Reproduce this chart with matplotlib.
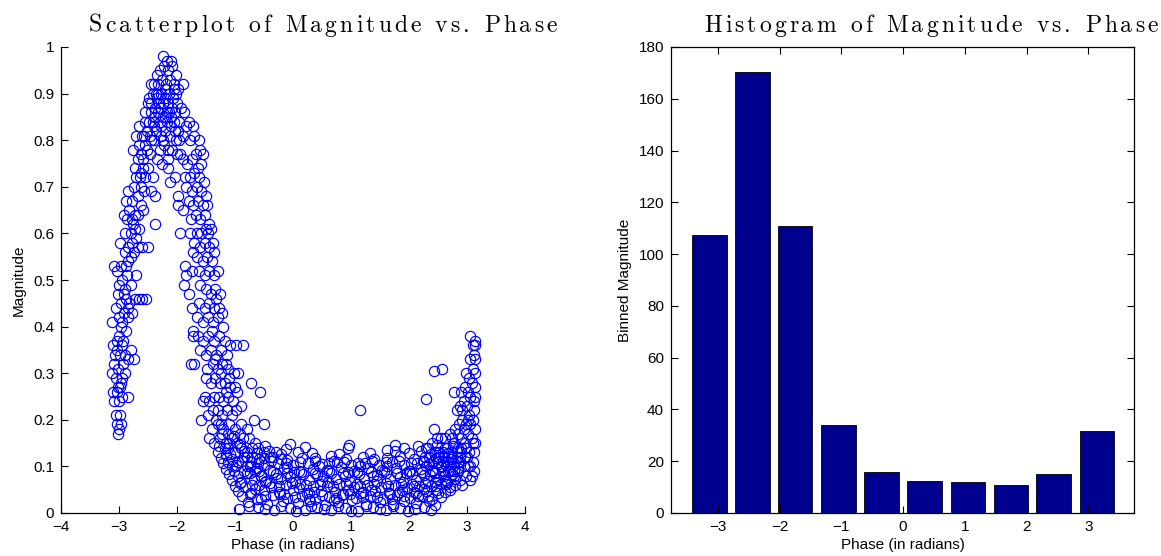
import numpy as np
import matplotlib.pyplot as plt

# magnitude vs phase samples, grouped by where they sit in the cloud
rise = [
    (-3.02, .17), (-3.00, .18), (-3.03, .19), (-2.96, .19), (-3.05, .21), (-2.98, .21),
    (-3.08, .24), (-3.00, .24), (-2.95, .25), (-3.04, .26), (-2.85, .25), (-2.98, .27),
    (-3.10, .26), (-3.05, .29), (-2.97, .28), (-2.90, .30), (-3.12, .30), (-3.02, .31),
    (-2.93, .32), (-3.08, .32), (-2.98, .34), (-3.10, .36), (-3.03, .35), (-2.90, .34),
    (-2.80, .35), (-2.85, .33), (-2.75, .33), (-2.95, .36), (-2.88, .39), (-3.04, .37),
    (-3.12, .41), (-2.97, .40), (-3.00, .42), (-2.92, .43), (-2.85, .42), (-2.78, .43),
    (-3.05, .44), (-2.96, .45), (-2.88, .46), (-3.02, .47), (-2.82, .45), (-2.90, .48),
    (-3.00, .49), (-2.94, .50), (-2.86, .51), (-3.03, .52), (-2.96, .53), (-2.88, .53),
    (-2.73, .46), (-2.65, .46), (-3.08, .53), (-2.80, .55), (-2.90, .56), (-2.70, .51),
    (-2.98, .58), (-2.85, .57), (-2.75, .56), (-2.68, .57), (-2.90, .60), (-2.80, .60),
    (-2.70, .59), (-2.60, .57), (-2.86, .63), (-2.76, .62), (-2.66, .61), (-2.92, .64),
    (-2.82, .65), (-2.72, .64), (-2.62, .66), (-2.88, .67), (-2.77, .67), (-2.67, .68),
    (-2.85, .69), (-2.74, .70), (-2.58, .65), (-2.64, .72), (-2.70, .72), (-2.57, .69),
    (-2.72, .74), (-2.62, .73), (-2.55, .72), (-2.67, .76), (-2.58, .76), (-2.50, .74),
    (-2.76, .78), (-2.65, .79), (-2.55, .79), (-2.47, .77), (-2.71, .81), (-2.60, .81),
    (-2.52, .82), (-2.44, .80), (-2.66, .83), (-2.56, .84), (-2.48, .84), (-2.40, .83),
    (-2.35, .76), (-2.42, .72), (-2.45, .69), (-2.38, .68), (-2.38, .62), (-2.50, .57),
    (-2.53, .46), (-2.60, .46), (-3.00, .38), (-2.94, .41), (-2.84, .44), (-2.92, .47),
    (-2.80, .49), (-2.85, .54), (-2.78, .58), (-2.72, .61), (-2.78, .63), (-2.68, .64),
    (-2.62, .70), (-2.58, .74), (-2.62, .77), (-2.52, .78), (-2.57, .81), (-2.46, .81),
    (-2.95, .29), (-3.07, .34), (-3.01, .27), (-2.93, .37),
]

peak = [
    (-2.45, .86), (-2.38, .87), (-2.32, .86), (-2.25, .85), (-2.18, .86), (-2.10, .85),
    (-2.03, .86), (-1.96, .84), (-2.48, .89), (-2.42, .90), (-2.35, .89), (-2.28, .90),
    (-2.21, .89), (-2.14, .90), (-2.07, .89), (-2.00, .88), (-1.93, .87), (-2.40, .92),
    (-2.33, .92), (-2.26, .93), (-2.19, .92), (-2.12, .93), (-2.05, .92), (-1.98, .91),
    (-2.30, .95), (-2.22, .96), (-2.15, .95), (-2.08, .96), (-2.02, .94), (-2.24, .98),
    (-2.17, .97), (-2.10, .97), (-2.35, .94), (-1.90, .92), (-2.50, .88), (-2.55, .86),
    (-2.36, .82), (-2.28, .81), (-2.20, .82), (-2.12, .81), (-2.04, .82), (-1.96, .80),
    (-2.30, .78), (-2.22, .79), (-2.15, .78), (-2.08, .78), (-2.26, .75), (-2.16, .74),
    (-2.00, .77), (-2.12, .71), (-2.04, .72), (-2.30, .84), (-2.18, .84), (-2.06, .84),
    (-2.42, .84), (-1.88, .86), (-1.85, .83), (-1.90, .81), (-1.95, .77),
    (-2.44, .88), (-2.37, .90), (-2.31, .88), (-2.24, .88), (-2.16, .88), (-2.09, .87),
    (-2.02, .90), (-2.38, .85), (-2.27, .87), (-2.13, .86), (-2.06, .91), (-2.20, .91),
    (-2.32, .90), (-2.45, .92), (-2.28, .83), (-2.20, .85), (-2.10, .83), (-2.02, .80),
    (-2.25, .80), (-2.40, .80), (-2.15, .76), (-1.98, .82),
]

fall = [
    (-1.90, .76), (-1.82, .75), (-1.75, .76), (-1.68, .77), (-1.60, .78), (-1.55, .77),
    (-1.86, .72), (-1.78, .72), (-1.70, .73), (-1.62, .72), (-1.53, .71), (-1.84, .70),
    (-1.74, .69), (-1.66, .70), (-1.58, .69), (-1.78, .80), (-1.70, .81), (-1.62, .80),
    (-1.80, .84), (-1.72, .83), (-1.80, .67), (-1.72, .66), (-1.64, .67), (-1.56, .66),
    (-1.48, .66), (-1.76, .63), (-1.68, .64), (-1.60, .63), (-1.52, .64), (-1.44, .62),
    (-1.78, .60), (-1.66, .60), (-1.58, .60), (-1.50, .61), (-1.42, .61), (-1.90, .65),
    (-1.98, .66), (-1.95, .60), (-1.98, .68), (-1.70, .58), (-1.60, .57), (-1.52, .58),
    (-1.44, .57), (-1.36, .56), (-1.66, .55), (-1.56, .54), (-1.48, .55), (-1.40, .54),
    (-1.62, .52), (-1.52, .51), (-1.44, .52), (-1.36, .51), (-1.30, .52), (-1.86, .53),
    (-1.84, .51), (-1.75, .52), (-1.73, .56), (-1.88, .49), (-1.80, .47), (-1.60, .49),
    (-1.50, .48), (-1.42, .47), (-1.34, .48), (-1.26, .47), (-1.62, .45), (-1.52, .44),
    (-1.44, .45), (-1.36, .44), (-1.66, .42), (-1.55, .41), (-1.46, .42), (-1.38, .41),
    (-1.30, .42), (-1.22, .43), (-1.75, .44), (-1.72, .39), (-1.72, .38), (-1.64, .38),
    (-1.56, .37), (-1.46, .38), (-1.36, .37), (-1.28, .38), (-1.18, .37), (-1.08, .36),
    (-1.60, .35), (-1.50, .34), (-1.42, .35), (-1.32, .34), (-1.24, .35), (-1.14, .34),
    (-1.48, .31), (-1.38, .32), (-1.30, .31), (-1.22, .32), (-1.12, .31), (-1.76, .32),
    (-1.70, .32), (-0.87, .36), (-0.98, .36), (-1.50, .29), (-1.42, .28), (-1.34, .29),
    (-1.26, .28), (-1.18, .28), (-1.10, .29), (-1.02, .30), (-1.52, .25), (-1.44, .24),
    (-1.36, .25), (-1.28, .25), (-1.20, .24), (-1.12, .25), (-1.04, .24), (-0.96, .26),
    (-1.30, .22), (-1.22, .21), (-1.14, .22), (-1.06, .21), (-0.98, .22), (-0.90, .23),
    (-1.58, .20), (-1.56, .24), (-0.72, .28), (-0.57, .26), (-1.00, .27), (-0.94, .30),
    (-1.40, .18), (-1.30, .19), (-1.20, .18), (-1.10, .19), (-1.00, .18), (-0.90, .19),
    (-0.80, .18), (-1.36, .15), (-1.26, .16), (-1.16, .15), (-1.06, .16), (-0.96, .15),
    (-0.86, .16), (-0.76, .16), (-0.66, .15), (-0.50, .19), (-0.68, .20), (-1.44, .16),
    (-1.64, .74), (-1.58, .75), (-1.50, .68), (-1.46, .60), (-1.38, .58), (-1.32, .46),
    (-1.28, .44), (-1.20, .40), (-1.16, .32), (-1.08, .27), (-1.40, .39), (-1.34, .33),
    (-1.25, .30), (-1.16, .26), (-1.46, .21), (-1.38, .22), (-1.33, .20), (-1.24, .19),
]

floor = [
    (-0.93, .008), (-0.60, .012), (-0.32, .006), (-0.05, .011), (0.20, .007), (0.42, .013),
    (0.66, .006), (0.90, .010), (1.12, .005), (1.38, .012), (1.60, .007), (1.85, .011),
    (1.98, .004), (2.25, .013),
    (-0.78, .024), (-0.45, .019), (-0.18, .026), (0.08, .021), (0.30, .025), (0.55, .018),
    (0.78, .023), (1.02, .027), (1.25, .020), (1.50, .024), (1.72, .019), (1.92, .026),
    (2.12, .021), (2.35, .025), (2.45, .018),
    (-0.88, .036), (-0.62, .031), (-0.35, .038), (-0.10, .033), (0.15, .037), (0.38, .030),
    (0.62, .035), (0.85, .039), (1.08, .032), (1.32, .036), (1.56, .031), (1.80, .038),
    (2.02, .033), (2.22, .037), (2.40, .030), (2.55, .034),
    (-0.95, .047), (-0.72, .043), (-0.50, .050), (-0.25, .045), (0.00, .049), (0.24, .042),
    (0.48, .048), (0.72, .044), (0.95, .050), (1.18, .043), (1.42, .047), (1.66, .042),
    (1.88, .049), (2.08, .045), (2.30, .048), (2.50, .043), (2.62, .046),
    (-1.00, .059), (-0.82, .055), (-0.58, .061), (-0.38, .056), (-0.12, .060), (0.10, .054),
    (0.34, .059), (0.58, .057), (0.80, .062), (1.05, .055), (1.28, .060), (1.52, .056),
    (1.75, .061), (1.96, .054), (2.18, .059), (2.38, .057), (2.56, .062), (2.70, .055),
    (-1.05, .071), (-0.90, .067), (-0.68, .073), (-0.46, .068), (-0.20, .072), (0.04, .066),
    (0.28, .071), (0.50, .069), (0.74, .074), (0.98, .067), (1.22, .072), (1.45, .068),
    (1.68, .073), (1.90, .066), (2.12, .071), (2.32, .069), (2.50, .074), (2.66, .067),
    (2.80, .072),
    (-1.10, .083), (-0.95, .079), (-0.75, .085), (-0.55, .080), (-0.30, .084), (-0.06, .078),
    (0.18, .083), (0.42, .081), (0.66, .086), (0.90, .079), (1.14, .084), (1.38, .080),
    (1.60, .085), (1.84, .078), (2.05, .083), (2.26, .081), (2.44, .086), (2.60, .079),
    (2.74, .084),
    (-1.15, .095), (-0.85, .091), (-0.62, .097), (-0.40, .092), (-0.15, .096), (0.10, .090),
    (0.34, .095), (0.58, .093), (0.82, .098), (1.06, .091), (1.30, .096), (1.54, .092),
    (1.78, .097), (2.00, .090), (2.20, .095), (2.40, .093), (2.55, .098), (2.70, .091),
    (2.85, .096),
    (-1.20, .107), (-0.98, .103), (-0.72, .109), (-0.50, .104), (-0.26, .108), (0.00, .102),
    (0.25, .107), (0.50, .105), (0.75, .110), (1.00, .103), (1.24, .108), (1.48, .104),
    (1.70, .109), (1.92, .102), (2.14, .107), (2.34, .105), (2.50, .110), (2.64, .103),
    (2.78, .108),
    (-1.25, .119), (-1.05, .115), (-0.80, .121), (-0.58, .116), (-0.35, .120), (-0.10, .114),
    (0.15, .119), (0.38, .117), (0.65, .122), (0.92, .115), (1.20, .120), (1.62, .118),
    (1.85, .123), (2.08, .116), (2.28, .121), (2.46, .117), (2.60, .122), (2.72, .115),
    (2.88, .120),
    (-1.30, .131), (-1.08, .127), (-0.85, .133), (-0.62, .128), (-0.42, .132), (-0.20, .126),
    (0.08, .131), (0.32, .129), (0.80, .127), (1.32, .129), (1.75, .132), (2.00, .128),
    (2.20, .133), (2.38, .127), (2.52, .131), (2.68, .129), (2.82, .134),
    (-1.28, .143), (-1.12, .139), (-0.92, .145), (-0.70, .140), (-0.48, .144), (-0.12, .138),
    (0.20, .142), (0.95, .140), (2.15, .143), (2.32, .139), (2.48, .145), (2.62, .140),
    (2.76, .144), (2.90, .139),
    (-0.65, .052), (-0.40, .064), (-0.15, .040), (0.12, .062), (0.36, .045), (0.60, .066),
    (0.86, .041), (1.10, .063), (1.35, .050), (1.60, .065), (1.82, .044), (2.05, .062),
    (2.25, .052), (2.45, .066), (-0.55, .030), (-0.28, .076), (0.02, .088), (0.27, .030),
    (0.52, .080), (0.70, .028), (0.95, .088), (1.20, .034), (1.45, .082), (1.70, .030),
    (1.95, .085), (2.15, .036), (2.36, .082), (2.58, .090), (-0.80, .100), (-0.50, .118),
    (-0.10, .098), (0.45, .100), (0.70, .112), (1.15, .100), (1.40, .115), (1.62, .100),
    (2.30, .100), (2.52, .120),
    (-0.76, .014), (-0.48, .009), (-0.20, .015), (0.06, .004), (0.31, .016), (0.54, .009),
    (0.78, .015), (1.00, .004), (1.25, .016), (1.50, .008), (1.72, .014), (2.10, .009),
    (2.38, .006),
    (-0.75, .040), (-0.48, .036), (-0.22, .041), (0.04, .035), (0.27, .042), (0.50, .038),
    (0.74, .033), (0.98, .040), (1.20, .046), (1.45, .035), (1.68, .040), (1.92, .037),
    (2.12, .043), (2.32, .036), (2.48, .050),
    (-0.92, .064), (-0.70, .060), (-0.48, .066), (-0.25, .058), (-0.02, .065), (0.22, .060),
    (0.46, .063), (0.69, .058), (0.92, .063), (1.16, .058), (1.40, .062), (1.63, .058),
    (1.86, .063), (2.08, .057), (2.28, .064), (2.47, .058), (2.64, .063),
    (-1.02, .090), (-0.80, .086), (-0.58, .090), (-0.35, .087), (-0.10, .085), (0.14, .088),
    (0.38, .086), (0.62, .090), (0.86, .085), (1.10, .089), (1.34, .087), (1.57, .090),
    (1.80, .086), (2.02, .091), (2.23, .087), (2.42, .090), (2.58, .085), (2.77, .090),
    (-1.12, .110), (-0.88, .112), (-0.60, .108), (-0.38, .111), (-0.12, .107), (0.12, .110),
    (0.38, .112), (0.62, .108), (0.88, .110), (1.12, .107), (1.36, .112), (1.60, .109),
    (1.82, .111), (2.04, .108), (2.24, .111), (2.42, .109), (2.58, .112), (2.85, .110),
    (-1.18, .140), (-1.10, .150), (-1.00, .130), (-0.90, .140), (-0.80, .130), (-0.70, .120),
    (-1.22, .170), (-1.12, .170), (-1.02, .165), (-0.92, .170), (-0.60, .140), (-0.50, .130),
    (-0.40, .120), (-0.30, .130), (-0.20, .115), (-1.15, .125), (-1.05, .100), (-0.95, .110),
    (-0.85, .120), (-0.75, .100), (-0.65, .090), (-0.55, .080),
]

tail = [
    (2.60, .12), (2.66, .14), (2.72, .13), (2.78, .15), (2.84, .14), (2.90, .16), (2.96, .15),
    (3.02, .17), (3.08, .16), (2.70, .17), (2.80, .18), (2.86, .19), (2.92, .20), (2.98, .19),
    (3.04, .21), (3.10, .20), (3.13, .18), (2.82, .22), (2.88, .23), (2.94, .24), (3.00, .23),
    (3.06, .25), (3.12, .24), (2.90, .26), (2.96, .27), (3.02, .26), (3.08, .28), (3.13, .27),
    (2.98, .30), (3.04, .29), (3.10, .31), (3.14, .30), (3.06, .33), (3.12, .34), (3.14, .33),
    (3.10, .36), (3.14, .37), (3.06, .38), (3.13, .36), (3.00, .12), (3.06, .10), (3.12, .13),
    (3.14, .15), (3.08, .08), (3.05, .07), (3.10, .11), (2.94, .10), (2.88, .11), (2.76, .10),
    (2.68, .09), (2.98, .08), (3.12, .22), (3.14, .25), (2.85, .09), (2.92, .06), (2.80, .06),
    (2.70, .05), (2.62, .07), (2.55, .10), (2.58, .13), (2.50, .12), (2.44, .13), (2.40, .15),
    (2.48, .16), (2.55, .16), (2.62, .16), (2.35, .12), (2.30, .14), (2.26, .11),
    (2.74, .12), (2.82, .12), (2.90, .13), (2.98, .14), (3.04, .13), (3.10, .15), (2.78, .08),
    (2.88, .07), (2.96, .12), (3.02, .10), (3.12, .09), (2.66, .11), (2.74, .16), (2.84, .17),
    (2.94, .18), (3.06, .19), (2.92, .22), (3.02, .20),
]

outliers = [
    (1.15, .22), (0.97, .145), (-0.05, .147), (1.75, .145), (1.92, .14), (2.30, .245),
    (2.43, .305), (2.57, .31), (2.78, .26), (2.43, .18), (1.62, .135),
]

points = rise + peak + fall + floor + tail + outliers
phase = [p for p, m in points]
magnitude = [m for p, m in points]

# summed magnitude in ten phase bins
bin_centers = [-3.14, -2.44, -1.75, -1.05, -0.35, 0.35, 1.05, 1.75, 2.44, 3.14]
binned_mag = [107.2, 170.5, 111.0, 34.1, 16.0, 12.3, 11.8, 10.8, 15.0, 31.5]

W, H = 1161, 556
plt.rcParams['font.family'] = ['Liberation Sans', 'DejaVu Sans']
plt.rcParams['axes.unicode_minus'] = True

fig = plt.figure(figsize=(W / 100, H / 100), dpi=100)
ax1 = fig.add_axes([61 / W, 43 / H, 464 / W, 466 / H])
ax2 = fig.add_axes([671 / W, 43 / H, 463 / W, 466 / H])

ax1.plot(phase, magnitude, linestyle='none', marker='o', ms=7.4,
         mfc='none', mec=(0, 0, 1), mew=0.85, clip_on=False)
ax1.set_xlim(-4, 4)
ax1.set_ylim(0, 1)
ax1.set_xticks(range(-4, 5))
ax1.set_yticks(np.arange(0, 1.01, 0.1))
ax1.set_yticklabels(['0', '0.1', '0.2', '0.3', '0.4', '0.5', '0.6', '0.7', '0.8', '0.9', '1'])
ax1.spines['top'].set_visible(False)
ax1.spines['right'].set_visible(False)
ax1.set_xlabel('Phase (in radians)', fontsize=11, labelpad=3)
ax1.set_ylabel('Magnitude', fontsize=11, labelpad=5)

ax2.bar(bin_centers, binned_mag, width=0.56, color=(0, 0, 0.5625),
        edgecolor='black', linewidth=0.6)
ax2.set_xlim(-3.76, 3.74)
ax2.set_ylim(0, 180)
ax2.set_xticks(range(-3, 4))
ax2.set_yticks(range(0, 181, 20))
ax2.set_xlabel('Phase (in radians)', fontsize=11, labelpad=3)
ax2.set_ylabel('Binned Magnitude', fontsize=11, labelpad=5)
ax2.tick_params(top=True, right=True)

for ax in (ax1, ax2):
    ax.tick_params(direction='in', length=5, width=0.8, labelsize=11, pad=5)
    for s in ax.spines.values():
        s.set_linewidth(0.9)


def spaced_title(text, x0, x1, y_base, size):
    # lay the title out glyph by glyph so it spans x0..x1 (figure pixels)
    r = fig.canvas.get_renderer()
    widths = []
    for ch in text:
        if ch == ' ':
            widths.append(0.333 * size * fig.dpi / 72)
        else:
            t = fig.text(0, 0, ch, family='cmr10', fontsize=size)
            widths.append(t.get_window_extent(r).width)
            t.remove()
    gap = (x1 - x0 - sum(widths)) / (len(text) - 1)
    x = x0
    for ch, w in zip(text, widths):
        if ch != ' ':
            fig.text(x / W, 1 - y_base / H, ch, family='cmr10', fontsize=size,
                     ha='left', va='baseline')
        x += w + gap


spaced_title('Scatterplot of Magnitude vs. Phase', 89, 557, 32, 17)
spaced_title('Histogram of Magnitude vs. Phase', 704, 1158, 32, 17)

fig.savefig('out.png', dpi=100)
